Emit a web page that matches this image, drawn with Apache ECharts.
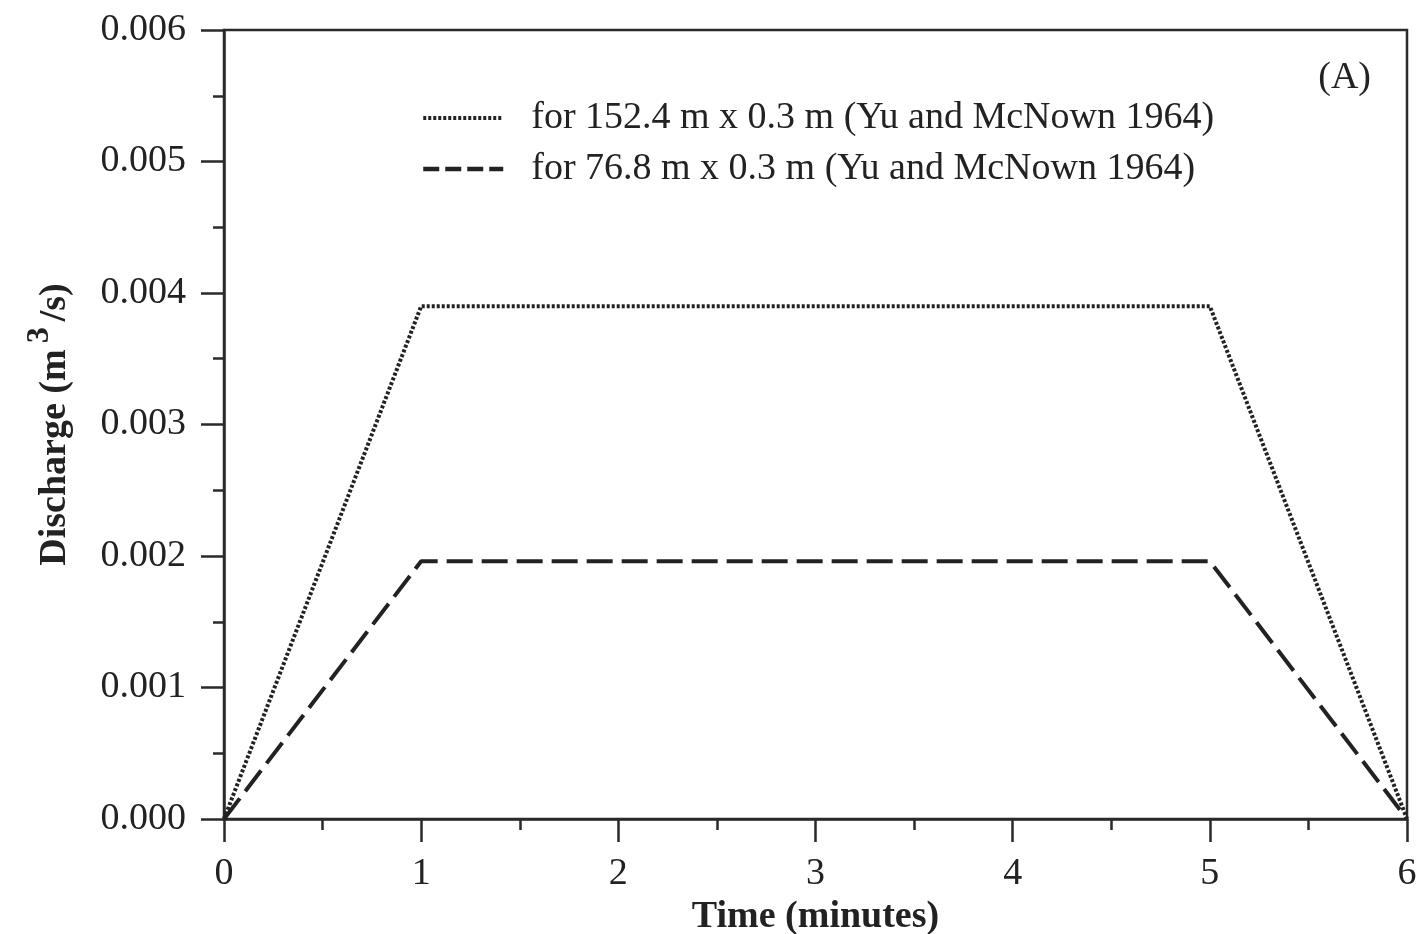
<!DOCTYPE html>
<html>
<head>
<meta charset="utf-8">
<script src="https://cdn.jsdelivr.net/npm/echarts@6/dist/echarts.min.js"></script>
<style>html,body{margin:0;padding:0;background:#fff}#c{width:1426px;height:934px}</style>
</head>
<body>
<div id="c"></div>
<script>
const seriesNames = ['for 152.4 m x 0.3 m (Yu and McNown 1964)', 'for 76.8 m x 0.3 m (Yu and McNown 1964)'];
const timeMinutes = [0, 1, 5, 6];
const discharge152 = [0, 0.0039, 0.0039, 0];
const discharge76 = [0, 0.00196, 0.00196, 0];
const panelLabel = '(A)';

const font = 'Liberation Serif';
const axisCol = '#2a2a2a';
const chart = echarts.init(document.getElementById('c'));
chart.setOption({
  animation: false,
  backgroundColor: '#fff',
  textStyle: { fontFamily: font },
  grid: { left: 224, right: 19, top: 30, bottom: 115, outerBoundsMode: 'none', containLabel: false,
    show: true, borderColor: axisCol, borderWidth: 2.5, backgroundColor: 'transparent' },
  legend: {
    orient: 'vertical', left: 416, top: 94, itemWidth: 80, itemHeight: 20, itemGap: 13,
    itemStyle: { color: 'rgba(0,0,0,0)', borderColor: 'rgba(0,0,0,0)', borderWidth: 0 },
    textStyle: { fontFamily: font, fontSize: 38, color: '#222', padding: [0, 0, 0, 23] },
    data: [
      { name: seriesNames[0], lineStyle: { type: [3, 2], width: 4 } },
      { name: seriesNames[1], lineStyle: { type: [16, 6], width: 4.5 } }
    ]
  },
  graphic: [{ type: 'text', right: 55, top: 59, style: { text: panelLabel, fontFamily: font, fontSize: 38, fill: '#222' } }],
  xAxis: {
    type: 'value', min: 0, max: 6, interval: 1,
    name: 'Time (minutes)', nameLocation: 'middle', nameGap: 74,
    nameTextStyle: { fontFamily: font, fontSize: 38, fontWeight: 'bold', color: '#222' },
    axisLine: { lineStyle: { color: axisCol, width: 2.5 } },
    axisTick: { inside: false, length: 23, lineStyle: { color: axisCol, width: 2.5 } },
    minorTick: { show: true, splitNumber: 2, length: 11, lineStyle: { color: axisCol, width: 2.5 } },
    axisLabel: { margin: 36, fontFamily: font, fontSize: 38, color: '#222' },
    splitLine: { show: false }
  },
  yAxis: {
    type: 'value', min: 0, max: 0.006, interval: 0.001,
    name: 'Discharge (m{sup|3}/s)', nameLocation: 'middle', nameGap: 138,
    nameTextStyle: { fontFamily: font, fontSize: 38, fontWeight: 'bold', color: '#222',
      rich: { sup: { fontFamily: font, fontSize: 32, fontWeight: 'bold', color: '#222', verticalAlign: 'bottom', padding: [0, 6, 30, 6] } } },
    axisLine: { lineStyle: { color: axisCol, width: 2.5 } },
    axisTick: { inside: false, length: 23, lineStyle: { color: axisCol, width: 2.5 } },
    minorTick: { show: true, splitNumber: 2, length: 11, lineStyle: { color: axisCol, width: 2.5 } },
    axisLabel: { margin: 38, fontFamily: font, fontSize: 38, color: '#222', formatter: v => v.toFixed(3) },
    splitLine: { show: false }
  },
  series: [
    { name: seriesNames[0], type: 'line', symbol: 'none', data: timeMinutes.map((t, i) => [t, discharge152[i]]),
      lineStyle: { color: '#222', width: 4, type: [3, 2] }, itemStyle: { color: '#222' } },
    { name: seriesNames[1], type: 'line', symbol: 'none', data: timeMinutes.map((t, i) => [t, discharge76[i]]),
      lineStyle: { color: '#222', width: 4, type: [26, 9] }, itemStyle: { color: '#222' } }
  ]
});
</script>
</body>
</html>
